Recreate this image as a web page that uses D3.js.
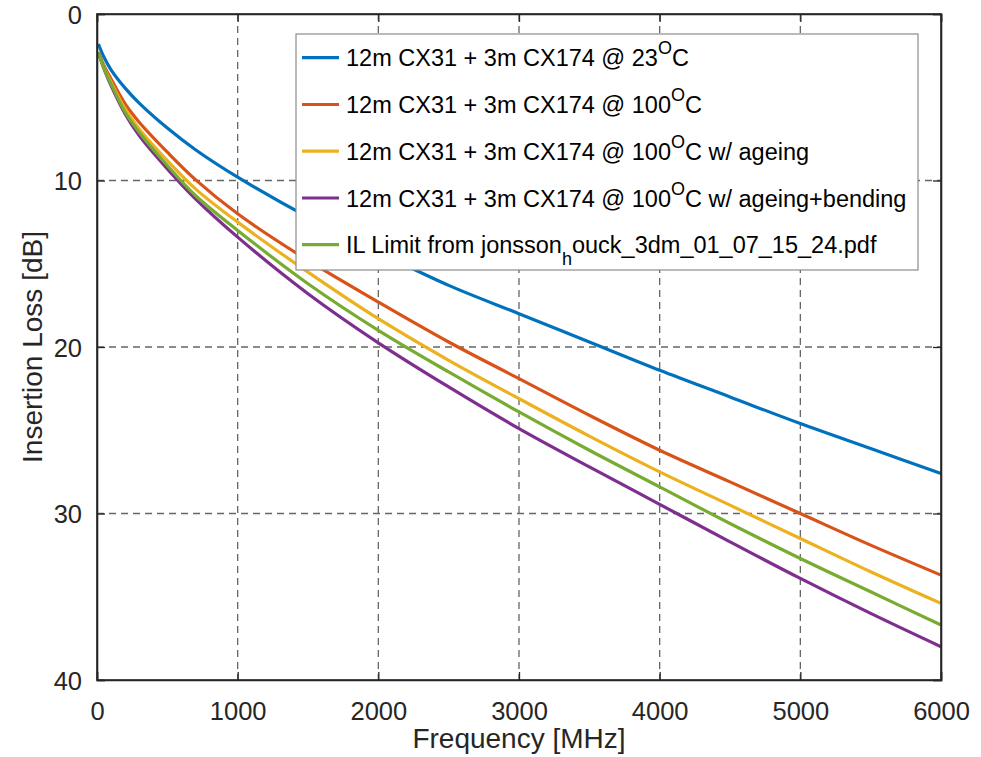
<!DOCTYPE html>
<html><head><meta charset="utf-8">
<script src="https://cdn.jsdelivr.net/npm/d3@7"></script>
<style>body{margin:0;background:#fff;}svg{display:block;font-family:"Liberation Sans",Arial,sans-serif;}</style>
</head><body><svg id="c" width="981" height="757"></svg>
<script>
const freq = [10, 50, 100, 200, 300, 500, 700, 1000, 1500, 2000, 2500, 3000, 3500, 4000, 4500, 5000, 5500, 6000];
const il23 = [1.8, 2.6, 3.35, 4.45, 5.35, 6.85, 8.15, 9.8, 12.2, 14.3, 16.3, 18.0, 19.7, 21.4, 23.0, 24.6, 26.1, 27.6];
const il100 = [2.3, 3.1, 3.9, 5.4, 6.5, 8.3, 9.95, 12.0, 14.8, 17.3, 19.7, 21.9, 24.1, 26.2, 28.1, 30.0, 31.9, 33.7];
const il100Age = [2.3, 3.2, 4.1, 5.7, 6.9, 8.8, 10.5, 12.5, 15.5, 18.3, 20.8, 23.1, 25.35, 27.5, 29.5, 31.5, 33.5, 35.4];
const ilLimit = [2.3, 3.3, 4.2, 5.9, 7.1, 9.1, 10.9, 13.0, 16.2, 19.0, 21.5, 23.9, 26.2, 28.4, 30.6, 32.7, 34.7, 36.7];
const il100AgeBend = [2.3, 3.3, 4.3, 6.0, 7.3, 9.3, 11.1, 13.4, 16.8, 19.75, 22.4, 24.9, 27.2, 29.45, 31.7, 33.9, 36.0, 38.0];
const xTicks = [0, 1000, 2000, 3000, 4000, 5000, 6000];
const yTicks = [0, 10, 20, 30, 40];

const series = [
  {vals: il23, color: "#0072BD"},
  {vals: il100, color: "#D95319"},
  {vals: il100Age, color: "#EDB120"},
  {vals: il100AgeBend, color: "#7E2F8E"},
  {vals: ilLimit, color: "#77AC30"}
];

const svg = d3.select("#c");
const L = 97, R = 941, T = 14, B = 680;
const x = d3.scaleLinear().domain([0, 6000]).range([L, R]);
const y = d3.scaleLinear().domain([0, 40]).range([T, B]);
const axisColor = "#262626";

const g = svg.append("g");
g.selectAll(".vg").data(xTicks.slice(1, -1)).enter().append("line")
  .attr("x1", d => x(d)).attr("x2", d => x(d)).attr("y1", T).attr("y2", B)
  .attr("stroke", "#666").attr("stroke-width", 1.3).attr("stroke-dasharray", "7,5");
g.selectAll(".hg").data(yTicks.slice(1, -1)).enter().append("line")
  .attr("y1", d => y(d)).attr("y2", d => y(d)).attr("x1", L).attr("x2", R)
  .attr("stroke", "#666").attr("stroke-width", 1.3).attr("stroke-dasharray", "7,5");

const line = d3.line().x((d, i) => x(freq[i])).y(d => y(d)).curve(d3.curveCatmullRom.alpha(0.5));
series.forEach(s => {
  svg.append("path").attr("d", line(s.vals)).attr("fill", "none")
    .attr("stroke", s.color).attr("stroke-width", 3.2).attr("stroke-linejoin", "round");
});

const fs = "25.5px";
const xb = svg.append("g").attr("transform", `translate(0,${B})`)
  .call(d3.axisBottom(x).tickValues(xTicks).tickSize(-8).tickFormat(d3.format("d")));
const xt = svg.append("g").attr("transform", `translate(0,${T})`)
  .call(d3.axisTop(x).tickValues(xTicks).tickSize(-8).tickFormat(""));
const yl = svg.append("g").attr("transform", `translate(${L},0)`)
  .call(d3.axisLeft(y).tickValues(yTicks).tickSize(-8).tickPadding(15).tickFormat(d3.format("d")));
const yr = svg.append("g").attr("transform", `translate(${R},0)`)
  .call(d3.axisRight(y).tickValues(yTicks).tickSize(-8).tickFormat(""));
[xb, xt, yl, yr].forEach(a => {
  a.selectAll(".domain").attr("stroke", axisColor).attr("stroke-width", 1.6);
  a.selectAll(".tick line").attr("stroke", axisColor).attr("stroke-width", 1.3);
  a.selectAll("text").attr("fill", axisColor).style("font-size", fs).style("font-family", "Liberation Sans, Arial, sans-serif");
});
xb.selectAll("text").attr("y", 40).attr("dy", 0);
yl.selectAll("text").attr("x", -15).attr("dy", "0.36em");
svg.append("rect").attr("x", L).attr("y", T).attr("width", R - L).attr("height", B - T)
  .attr("fill", "none").attr("stroke", axisColor).attr("stroke-width", 1.6);

svg.append("text").attr("x", (L + R) / 2).attr("y", 748).attr("text-anchor", "middle")
  .attr("fill", axisColor).style("font-size", "28px").text("Frequency [MHz]");
svg.append("text").attr("transform", `translate(42,${(T + B) / 2}) rotate(-90)`).attr("text-anchor", "middle")
  .attr("fill", axisColor).style("font-size", "28px").text("Insertion Loss [dB]");

const lg = svg.append("g");
lg.append("rect").attr("x", 296).attr("y", 34).attr("width", 622).attr("height", 236)
  .attr("fill", "#fff").attr("stroke", "#8c8c8c").attr("stroke-width", 1.2);
const rowY = [57.7, 104.5, 151.2, 198, 244.7];
const lfs = 23.5;
series.forEach((s, r) => {
  const yy = rowY[r];
  lg.append("line").attr("x1", 302).attr("x2", 339).attr("y1", yy).attr("y2", yy)
    .attr("stroke", s.color).attr("stroke-width", 3.2);
  const t = lg.append("text").attr("x", 346).attr("y", yy + 8.5).attr("fill", "#000").style("font-size", lfs + "px");
  if (r === 0) {
    t.append("tspan").text("12m CX31 + 3m CX174 @ 23");
    t.append("tspan").attr("dy", -12).style("font-size", "18px").text("O");
    t.append("tspan").attr("dy", 12).text("C");
  } else if (r < 4) {
    t.append("tspan").text("12m CX31 + 3m CX174 @ 100");
    t.append("tspan").attr("dy", -12).style("font-size", "18px").text("O");
    t.append("tspan").attr("dy", 12).text(["", "C", "C w/ ageing", "C w/ ageing+bending"][r]);
  } else {
    t.append("tspan").text("IL Limit from jonsson");
    t.append("tspan").attr("dy", 12).style("font-size", "18px").text("h");
    t.append("tspan").attr("dy", -12).text("ouck_3dm_01_07_15_24.pdf");
  }
});
</script></body></html>
